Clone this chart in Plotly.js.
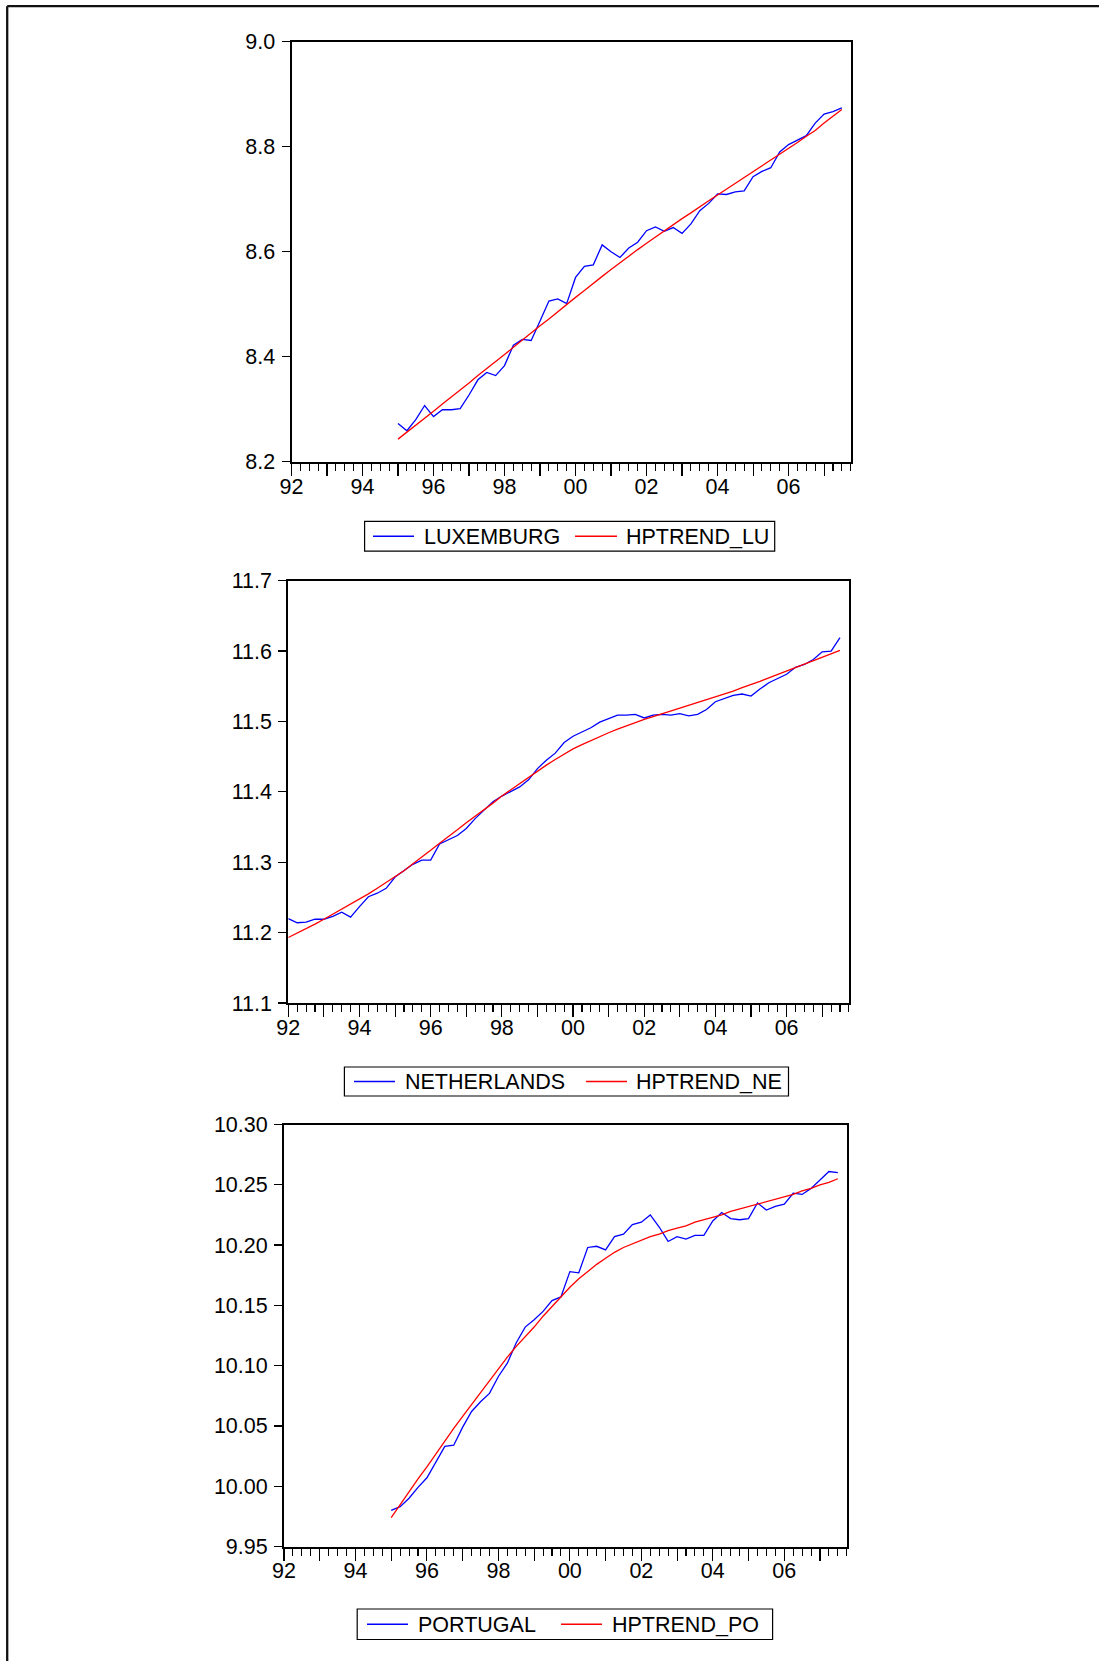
<!DOCTYPE html>
<html>
<head>
<meta charset="utf-8">
<script src="https://cdn.plot.ly/plotly-3.0.1.min.js"></script>
<style>
  html, body { margin: 0; padding: 0; background: #fff; }
  #chart { width: 1099px; height: 1661px; }
</style>
</head>
<body>
<div id="chart"></div>
<script>
// ---- Data (quarterly, log levels) ----
const yearTickVals = [1992,1993,1994,1995,1996,1997,1998,1999,2000,2001,2002,2003,2004,2005,2006,2007];
const yearTickText = ['92','','94','','96','','98','','00','','02','','04','','06',''];

const startLU = '1995Q1';
const luxemburg = [8.273,8.259,8.280,8.307, 8.286,8.299,8.299,8.301, 8.327,8.356,8.370,8.364,
  8.383,8.422,8.433,8.431, 8.468,8.506,8.510,8.501, 8.551,8.572,8.575,8.613, 8.600,8.589,8.607,8.618,
  8.640,8.647,8.639,8.646, 8.635,8.653,8.678,8.692, 8.710,8.709,8.714,8.716, 8.743,8.753,8.760,8.790,
  8.804,8.813,8.821,8.845, 8.862,8.867,8.874];
const hptrendLU = [8.243,8.256,8.270,8.283, 8.296,8.310,8.323,8.337, 8.350,8.364,8.377,8.391,
  8.404,8.418,8.432,8.445, 8.459,8.472,8.486,8.499, 8.513,8.526,8.540,8.553, 8.566,8.579,8.591,8.604,
  8.616,8.628,8.640,8.652, 8.663,8.674,8.686,8.697, 8.708,8.719,8.730,8.741, 8.752,8.763,8.774,8.786,
  8.797,8.808,8.820,8.831, 8.845,8.858,8.871];

const startNE = '1992Q1';
const netherlands = [11.220,11.214,11.215,11.219, 11.219,11.223,11.229,11.222, 11.237,11.251,11.256,11.263,
  11.279,11.288,11.297,11.303, 11.303,11.326,11.332,11.338, 11.348,11.362,11.374,11.386,
  11.394,11.400,11.407,11.417, 11.433,11.445,11.455,11.470, 11.479,11.485,11.491,11.499,
  11.504,11.509,11.509,11.510, 11.505,11.509,11.510,11.509, 11.511,11.508,11.510,11.517,
  11.528,11.532,11.537,11.539, 11.536,11.546,11.555,11.561, 11.567,11.577,11.581,11.588,
  11.599,11.600,11.619];
const hptrendNE = [11.193,11.199,11.206,11.212, 11.219,11.226,11.233,11.240, 11.247,11.255,11.263,11.271,
  11.279,11.288,11.298,11.307, 11.317,11.327,11.336,11.346, 11.356,11.365,11.375,11.384,
  11.394,11.403,11.412,11.421, 11.430,11.438,11.446,11.454, 11.461,11.467,11.473,11.479,
  11.484,11.489,11.494,11.499, 11.503,11.507,11.511,11.514, 11.518,11.522,11.526,11.530,
  11.535,11.539,11.543,11.548, 11.552,11.557,11.562,11.567, 11.572,11.577,11.582,11.586,
  11.591,11.596,11.601];

const startPO = '1995Q1';
const portugal = [9.980,9.983,9.990,9.999, 10.007,10.020,10.033,10.034, 10.049,10.062,10.070,10.077,
  10.091,10.102,10.119,10.132, 10.138,10.145,10.154,10.157, 10.178,10.177,10.198,10.199,
  10.196,10.207,10.209,10.217, 10.219,10.225,10.215,10.203, 10.207,10.205,10.208,10.208,
  10.220,10.227,10.222,10.221, 10.222,10.235,10.229,10.232, 10.234,10.243,10.242,10.247,
  10.254,10.261,10.260];
const hptrendPO = [9.974,9.985,9.996,10.006, 10.016,10.027,10.037,10.048, 10.058,10.068,10.078,10.088,
  10.098,10.107,10.116,10.124, 10.132,10.141,10.149,10.157, 10.165,10.172,10.178,10.184,
  10.189,10.194,10.198,10.201, 10.204,10.207,10.209,10.212, 10.214,10.216,10.219,10.221,
  10.223,10.225,10.228,10.230, 10.232,10.234,10.236,10.238, 10.240,10.242,10.245,10.247,
  10.250,10.252,10.255];

// ---- helpers ----
function quarterPositions(start, n) {
  const y0 = parseInt(start.slice(0, 4), 10);
  const q0 = parseInt(start.slice(5), 10) - 1;
  const out = [];
  for (let i = 0; i < n; i++) out.push(y0 + (q0 + i) / 4);
  return out;
}
// quarter tick marks that are not at a year start (year starts carry the long ticks)
const quarterTickVals = quarterPositions('1992Q1', 64).filter(v => v % 1 !== 0);

const FONT = '"Liberation Sans", Arial, sans-serif';
const FS = 21.5;
const BLUE = '#0000ff', RED = '#ff0000';

function mkTrace(start, vals, name, color, xa, ya) {
  return {
    type: 'scatter', mode: 'lines', name: name,
    x: quarterPositions(start, vals.length), y: vals,
    xaxis: xa, yaxis: ya, showlegend: false,
    line: { color: color, width: 1.3 },
    hoverinfo: 'skip'
  };
}

const traces = [
  mkTrace(startLU, luxemburg, 'LUXEMBURG', BLUE, 'x', 'y'),
  mkTrace(startLU, hptrendLU, 'HPTREND_LU', RED, 'x', 'y'),
  mkTrace(startNE, netherlands, 'NETHERLANDS', BLUE, 'x2', 'y2'),
  mkTrace(startNE, hptrendNE, 'HPTREND_NE', RED, 'x2', 'y2'),
  mkTrace(startPO, portugal, 'PORTUGAL', BLUE, 'x3', 'y3'),
  mkTrace(startPO, hptrendPO, 'HPTREND_PO', RED, 'x3', 'y3')
];

const W = 1099, H = 1661;
function px2x(px) { return px / W; }
function px2y(py) { return 1 - py / H; }

function xAxis(l, r, anchor) {
  return {
    domain: [px2x(l), px2x(r)], anchor: anchor,
    range: [1992, 2007.75],
    tickmode: 'array', tickvals: yearTickVals, ticktext: yearTickText,
    ticks: 'outside', ticklen: 12, tickwidth: 1.1, tickcolor: '#000',
    minor: { tickmode: 'array', tickvals: quarterTickVals, ticks: 'outside', ticklen: 7, tickwidth: 1.1, tickcolor: '#000', showgrid: false },
    showline: true, mirror: true, linecolor: '#000', linewidth: 2,
    showgrid: false, zeroline: false,
    tickfont: { family: FONT, size: FS, color: '#000' },
    ticklabelstandoff: -8,
    fixedrange: true
  };
}
function yAxis(t, b, anchor, range, dtick, fmt) {
  return {
    domain: [px2y(b), px2y(t)], anchor: anchor,
    range: range, tickmode: 'linear', tick0: range[0], dtick: dtick, tickformat: fmt,
    ticks: 'outside', ticklen: 8, tickwidth: 1.2, tickcolor: '#000',
    showline: true, mirror: true, linecolor: '#000', linewidth: 2,
    showgrid: false, zeroline: false,
    tickfont: { family: FONT, size: FS, color: '#000' },
    ticklabelstandoff: 2,
    fixedrange: true
  };
}

// ---- legends (drawn as boxes with line samples and text), positions in px ----
const legendBoxes = [
  { box: [364.6, 521.4, 774.7, 551.1], items: [[373, 414, 424], [575, 617, 626]], traces: [0, 1] },
  { box: [344.4, 1067.0, 788.5, 1096.0], items: [[354, 395, 405], [586, 627, 636]], traces: [2, 3] },
  { box: [357.2, 1609.0, 772.6, 1639.5], items: [[367, 408, 417.5], [561, 602, 611.5]], traces: [4, 5] }
];
const shapes = [
  { type: 'line', xref: 'paper', yref: 'paper', x0: px2x(7.2), x1: 1, y0: px2y(6.2), y1: px2y(6.2), line: { color: '#111', width: 2.3 } },
  { type: 'line', xref: 'paper', yref: 'paper', x0: px2x(7.2), x1: px2x(7.2), y0: 0, y1: px2y(6.2), line: { color: '#111', width: 2.3 } }
];
const annotations = [];
legendBoxes.forEach(lb => {
  const [l, t, r, b] = lb.box;
  const cy = (t + b) / 2;
  shapes.push({ type: 'rect', xref: 'paper', yref: 'paper', x0: px2x(l), x1: px2x(r), y0: px2y(b), y1: px2y(t),
    line: { color: '#000', width: 1.2 }, fillcolor: '#fff' });
  lb.items.forEach((it, k) => {
    const tr = traces[lb.traces[k]];
    shapes.push({ type: 'line', xref: 'paper', yref: 'paper', x0: px2x(it[0]), x1: px2x(it[1]), y0: px2y(cy), y1: px2y(cy),
      line: { color: tr.line.color, width: 1.3 } });
    annotations.push({ xref: 'paper', yref: 'paper', x: px2x(it[2] - 2), y: px2y(cy + 0.5), xanchor: 'left', yanchor: 'middle',
      text: tr.name, showarrow: false, font: { family: FONT, size: FS, color: '#000' } });
  });
});

const layout = {
  width: W, height: H,
  margin: { l: 0, r: 0, t: 0, b: 0 },
  paper_bgcolor: '#fff', plot_bgcolor: '#fff',
  showlegend: false,
  font: { family: FONT, size: FS, color: '#000' },
  xaxis: xAxis(291.5, 850.7, 'y'),
  yaxis: yAxis(41.7, 461.7, 'x', [8.2, 9.0], 0.2, '.1f'),
  xaxis2: xAxis(288.3, 848.9, 'y2'),
  yaxis2: yAxis(580.7, 1003.0, 'x2', [11.1, 11.7], 0.1, '.1f'),
  xaxis3: xAxis(284.0, 846.8, 'y3'),
  yaxis3: yAxis(1124.5, 1546.5, 'x3', [9.95, 10.30], 0.05, '.2f'),
  shapes: shapes,
  annotations: annotations
};

Plotly.newPlot('chart', traces, layout, { displayModeBar: false, staticPlot: true });
</script>
</body>
</html>
